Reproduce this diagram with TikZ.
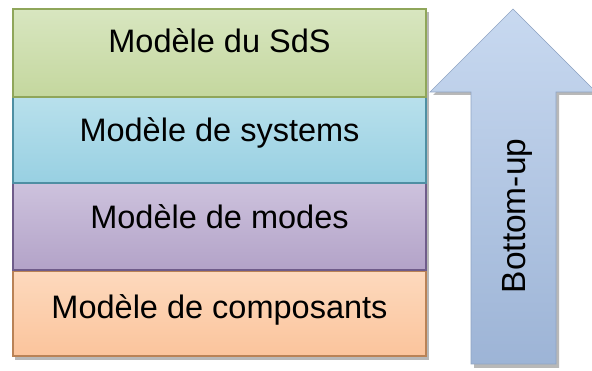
\documentclass[tikz,border=0pt]{standalone}
\usepackage{fontspec}
\setmainfont{Liberation Sans}
\definecolor{gTop}{HTML}{D8E6C0}
\definecolor{gBot}{HTML}{C4D79E}
\definecolor{gEdge}{HTML}{8FA65A}
\definecolor{bTop}{HTML}{B8E0EC}
\definecolor{bBot}{HTML}{98D0E2}
\definecolor{bEdge}{HTML}{4E8FA3}
\definecolor{pTop}{HTML}{CDC2DD}
\definecolor{pBot}{HTML}{B3A3C8}
\definecolor{pEdge}{HTML}{6F5C8A}
\definecolor{oTop}{HTML}{FDD9BD}
\definecolor{oBot}{HTML}{FBC49C}
\definecolor{oEdge}{HTML}{B98256}
\definecolor{aTop}{HTML}{C8D9F0}
\definecolor{aBot}{HTML}{9DB4D6}
\definecolor{aEdge}{HTML}{8FA4C4}
\tikzset{
  layer/.style={draw=#1Edge, line width=1.2pt, top color=#1Top, bottom color=#1Bot},
  shad/.style={fill=black, opacity=0.28},
  lbl/.style={anchor=base, font=\fontsize{32.5}{38}\selectfont, text=black, inner sep=0pt}
}
\begin{document}
\begin{tikzpicture}[x=1pt,y=-1pt]
\useasboundingbox (0,0) rectangle (592,371);
% arrow
\path[shad] (516,12) -- (599,95) -- (559,95) -- (559,368) -- (474,368) -- (474,95) -- (433,95) -- cycle;
\path[draw=aEdge, line width=0.6pt, top color=aTop, bottom color=aBot]
  (513,9) -- (596,92) -- (556,92) -- (556,364) -- (471,364) -- (471,92) -- (430,92) -- cycle;
\node[rotate=90, anchor=base, font=\fontsize{33.5}{40}\selectfont, inner sep=0pt] (bu) at (525,216) {Bottom-up};
% layers
\path[shad] (15,12) rectangle (429,360);
\path[layer=o] (13,271) rectangle (426,356);
\path[layer=p] (13,183) rectangle (426,270);
\path[layer=b] (13,97) rectangle (426,183);
\path[layer=g] (13,9) rectangle (426,97);
\node[lbl] (l1) at (219.5,53) {Modèle du SdS};
\node[lbl] (l2) at (219.5,142) {Modèle de systems};
\node[lbl] (l3) at (219.5,229) {Modèle de modes};
\node[lbl] (l4) at (219.5,319) {Modèle de composants};
\end{tikzpicture}
\end{document}
